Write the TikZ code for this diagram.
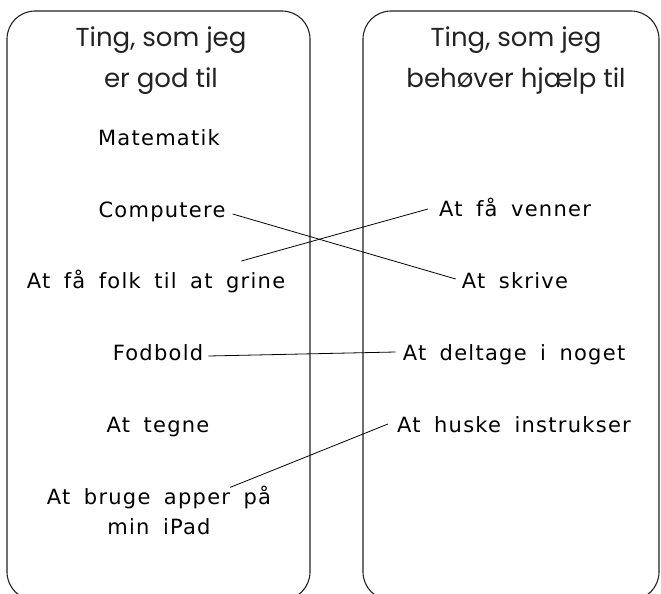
\documentclass[tikz,border=0pt]{standalone}
\usepackage{fontspec}
\usetikzlibrary{calc}
\newfontfamily\headfont{Poppins}
\newfontfamily\handfont[LetterSpace=6,WordSpace=1.7]{DejaVu Sans}
\definecolor{ink}{HTML}{222222}
\tikzset{
  x=1pt, y=-1pt,
  column/.style={draw=ink, line width=1.1pt, rounded corners=28pt},
  heading/.style={font=\headfont\fontsize{26}{41}\selectfont, text=ink, align=center, inner sep=0pt, anchor=base},
  item/.style={font=\handfont\fontsize{21}{30}\selectfont, text=black, inner sep=0pt, anchor=base},
  link/.style={draw=black, line width=0.8pt},
}
\begin{document}
\begin{tikzpicture}
\useasboundingbox (0,0) rectangle (661,594);
% the two columns, running off the bottom edge
\begin{scope}
  \clip (0,0) rectangle (661,594);
  \draw[column] (7,11) rectangle (310,600);
  \draw[column] (363,11) rectangle (659,600);
\end{scope}

% column headings (base anchor sits on the last line)
\node[heading] (hgood) at (161,88) {Ting, som jeg\\er god til};
\node[heading] (hhelp) at (516,88) {Ting, som jeg\\behøver hjælp til};

% left column: strengths
\node[item] (mat)   at (159,145) {Matematik};
\node[item] (comp)  at (162,217) {Computere};
\node[item] (folk)  at (156,288) {At få folk til at grine};
\node[item] (fod)   at (158,360) {Fodbold};
\node[item] (tegne) at (158,432) {At tegne};
\node[item, align=center] (apper) at (159,534) {At bruge apper på\\min iPad};

% right column: things to get help with
\node[item] (venner)  at (515,216) {At få venner};
\node[item] (skrive)  at (515,288) {At skrive};
\node[item] (deltage) at (514,360) {At deltage i noget};
\node[item] (huske)   at (514,432) {At huske instrukser};

% hand-drawn links between the columns
\draw[link] ($(comp.base east)+(7,-3)$) -- ($(skrive.base west)+(-6,-9)$);
\draw[link] ($(folk.base east)+(-44,-27)$) -- ($(venner.base west)+(-11,-7)$);
\draw[link] ($(fod.base east)+(5,-4)$) -- ($(deltage.base west)+(-7,-8)$);
\draw[link] ($(apper.north east)+(-41,2)$) -- ($(huske.base west)+(-9,-8)$);
\end{tikzpicture}
\end{document}
